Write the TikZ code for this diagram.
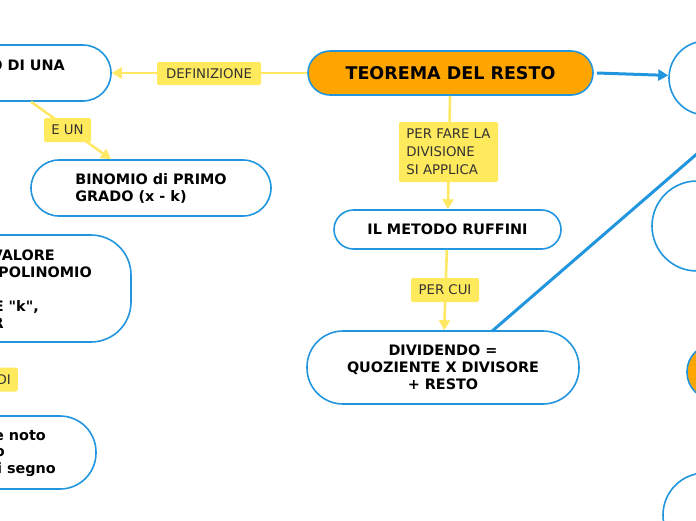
\documentclass[tikz,border=0pt]{standalone}
\usepackage{fontspec}
\setmainfont{DejaVu Sans}[Ligatures=TeXOff]
\usetikzlibrary{arrows.meta}
\definecolor{mblue}{RGB}{33,150,222}
\definecolor{morange}{RGB}{255,165,0}
\definecolor{myel}{RGB}{255,233,92}
\definecolor{mline}{RGB}{255,232,100}
\definecolor{mtext}{RGB}{51,51,51}
\begin{document}
\begin{tikzpicture}[x=1pt,y=-1pt,
  box/.style={draw=mblue, line width=1.6pt, fill=white, rounded corners=#1,
    inner sep=0pt, font=\fontsize{14.4}{17}\selectfont\bfseries, align=center},
  ntxt/.style={inner sep=0pt, anchor=east, font=\fontsize{14.4}{17}\selectfont\bfseries},
  lab/.style={fill=myel, rounded corners=2pt, text=mtext, inner sep=0pt,
    font=\fontsize{13.3}{18}\selectfont, minimum height=23pt},
  yconn/.style={draw=mline, line width=2.6pt, -{Triangle[length=10pt,width=11pt]}},
  bconn/.style={draw=mblue, line width=3pt},
]
\useasboundingbox (0,0) rectangle (696,520);
\clip (0,0) rectangle (696,520);

% main nodes
\node[box=22pt, fill=morange, minimum width=285pt, minimum height=44pt,
  font=\fontsize{17.5}{20}\selectfont\bfseries] (teo) at (450.5,73) {TEOREMA DEL RESTO};
\node[box=28pt, minimum width=240pt, minimum height=56pt] (n1) at (-9,73) {};
\node[ntxt] (n1t) at (65,65) {RESTO DI UNA};
\node[box=28pt, minimum width=240pt, minimum height=56pt, align=left] (bin) at (151,188)
  {BINOMIO di PRIMO\\GRADO (x - k)};
\node[box=40pt, minimum width=260pt, minimum height=107pt] (mid) at (1,288.5) {};
\node[ntxt] (midA) at (55,255) {VALORE};
\node[ntxt] (midB) at (92,272) {POLINOMIO};
\node[ntxt] (midC) at (39,307) {E "k",};
\node[ntxt] (midD) at (4,323) {R};
\node[box=36pt, minimum width=240pt, minimum height=73pt] (low) at (-24,452.5) {};
\node[ntxt] (lowA) at (46,436) {e noto};
\node[ntxt] (lowB) at (5,453) {o};
\node[ntxt] (lowC) at (56,470) {i segno};
\node[box=19.5pt, minimum width=227pt, minimum height=39pt] (ruf) at (447.5,229.5) {IL METODO RUFFINI};
\node[box=36pt, minimum width=272pt, minimum height=73pt] (div) at (443,367.5)
  {DIVIDENDO =\\QUOZIENTE X DIVISORE\\+ RESTO};

% right side nodes (cut off)
\node[box=37pt, minimum width=150pt, minimum height=74pt] (r1) at (744,78) {};
\node[box=45pt, minimum width=160pt, minimum height=90pt] (r2) at (732,226) {};
\node[box=27pt, fill=morange, minimum width=150pt, minimum height=55pt] (r3) at (762,372) {};
\node[box=42pt, minimum width=160pt, minimum height=84pt] (r4) at (743,515) {};

% connectors
\draw[yconn] (teo) -- (n1);
\draw[yconn] (n1) -- (bin);
\draw[yconn] (teo) -- (ruf);
\draw[yconn] (ruf) -- (div);
\draw[bconn, -{Triangle[length=10pt,width=11pt]}] ([xshift=3pt]teo.east) -- (r1);
\coordinate (dstart) at ([xshift=49pt,yshift=-1pt]div.north);
\coordinate (far) at (780,82);
\draw[bconn] (dstart) -- (far);

% labels
\node[lab, minimum width=104pt] (l1) at (209,73.5) {DEFINIZIONE};
\node[lab, minimum width=47pt, minimum height=24pt] (l2) at (67.5,130) {E UN};
\node[lab, minimum width=99pt, minimum height=60pt, align=left] (l3) at (448.5,152)
  {PER FARE LA\\DIVISIONE\\SI APPLICA};
\node[lab, minimum width=68pt, minimum height=24pt] (l4) at (445,290) {PER CUI};
\node[lab, anchor=east, inner xsep=7pt, minimum height=24pt] (l5) at (18,379.5) {DI};
\end{tikzpicture}
\end{document}
